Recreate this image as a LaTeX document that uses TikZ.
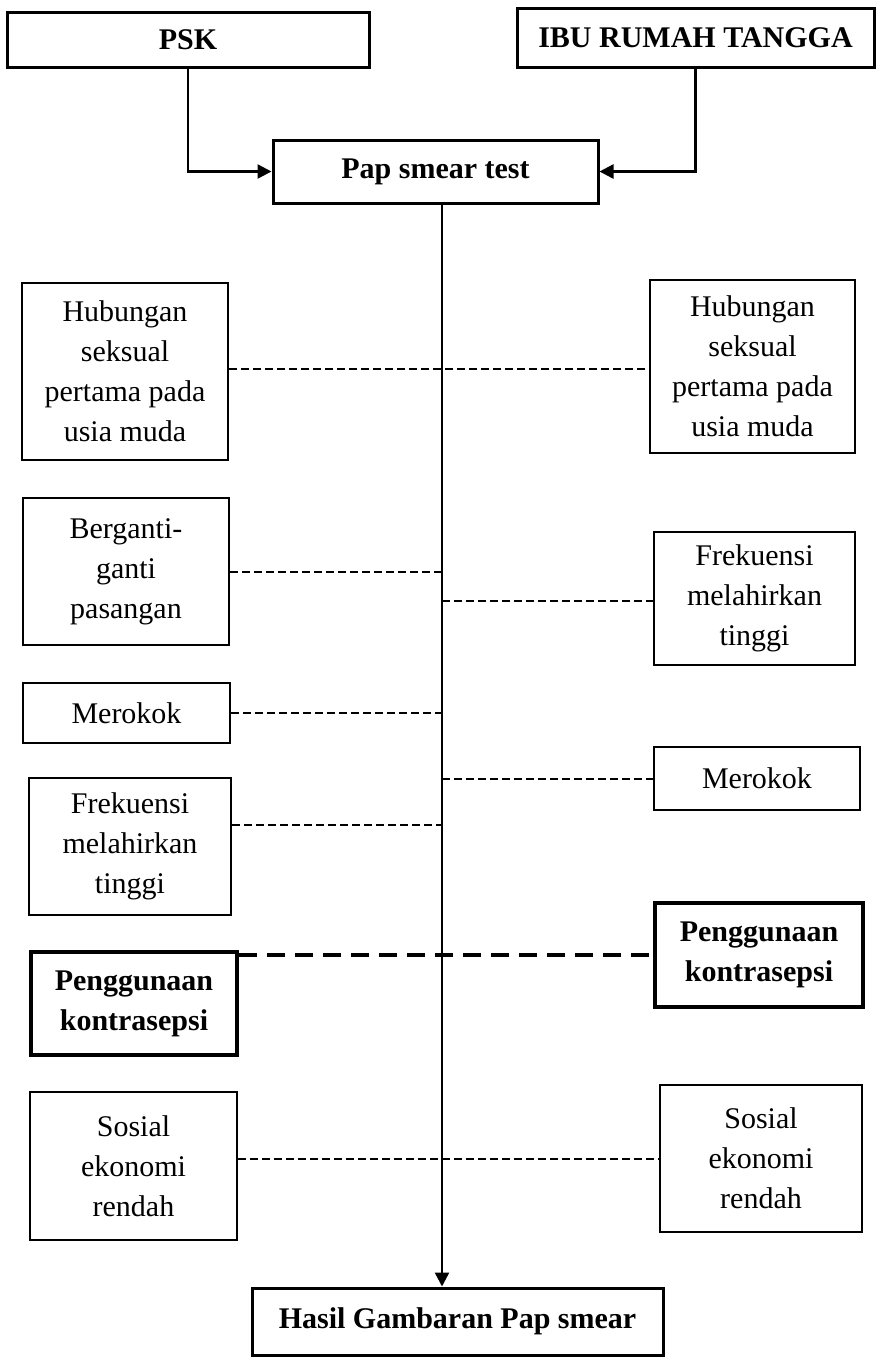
\documentclass[tikz,border=0pt]{standalone}
\usepackage{fontspec}
\setmainfont{Liberation Serif}
\usetikzlibrary{arrows.meta}
\begin{document}
\begin{tikzpicture}[x=0.5pt,y=-0.5pt,
 box/.style={draw, line width=1pt, align=center, inner sep=0pt, font=\fontsize{15}{20}\selectfont},
 headbox/.style={box, line width=1.5pt, font=\bfseries\fontsize{15}{20}\selectfont},
 keybox/.style={box, line width=2pt, font=\bfseries\fontsize{15}{20}\selectfont},
 link/.style={line width=1pt, dash pattern=on 4pt off 2pt},
 keylink/.style={line width=2pt, dash pattern=on 9pt off 5pt},
 flow/.style={line width=1.2pt, -{Triangle[length=7pt,width=7pt]}}]
\useasboundingbox (0,0) rectangle (876,1357);
% top
\node[headbox, minimum width=181pt, minimum height=27.5pt] (psk) at (188,39.5) {PSK};
\node[headbox, minimum width=178.5pt, minimum height=29.5pt] (ibu) at (695.5,37.5) {IBU RUMAH TANGGA};
\node[headbox, minimum width=162.5pt, minimum height=31.5pt] (pap) at (435.5,171.5) {Pap smear test};
\node[headbox, minimum width=205.5pt, minimum height=33.5pt] (hasil) at (457.5,1321.5) {Hasil Gambaran Pap smear};
\coordinate (spine) at (442,0);
\draw[flow] (psk.south) |- (pap.west);
\draw[flow] (ibu.south) |- (pap.east);
\draw[flow] (pap.south -| spine) -- (hasil.north -| spine);
% factor boxes
\node[box, minimum width=103pt, minimum height=88.5pt] (h1L) at (125,371.5) {Hubungan\\seksual\\pertama pada\\usia muda};
\node[box, minimum width=102.5pt, minimum height=86.5pt] (h1R) at (752.5,366.5) {Hubungan\\seksual\\pertama pada\\usia muda};
\node[box, minimum width=103pt, minimum height=73.5pt] (bgL) at (126,571.5) {Berganti-\\ganti\\pasangan};
\node[box, minimum width=100.5pt, minimum height=66.5pt] (frR) at (754.5,598.5) {Frekuensi\\melahirkan\\tinggi};
\node[box, minimum width=103.5pt, minimum height=30pt] (mrL) at (126.5,713) {Merokok};
\node[box, minimum width=103pt, minimum height=31.5pt] (mrR) at (757,778.5) {Merokok};
\node[box, minimum width=101pt, minimum height=68.5pt] (frL) at (130,846.5) {Frekuensi\\melahirkan\\tinggi};
\node[keybox, minimum width=103pt, minimum height=51.5pt] (pkL) at (134,1003.5) {Penggunaan\\kontrasepsi};
\node[keybox, minimum width=104pt, minimum height=52pt] (pkR) at (759,955) {Penggunaan\\kontrasepsi};
\node[box, minimum width=103.5pt, minimum height=74pt] (soL) at (133.5,1166) {Sosial\\ekonomi\\rendah};
\node[box, minimum width=101pt, minimum height=73.5pt] (soR) at (761,1158.5) {Sosial\\ekonomi\\rendah};
% dashed links
\draw[link] ([yshift=1.5pt]h1L.east) -- ([yshift=1.5pt]h1L.east -| h1R.west);
\draw[link] (bgL.east) -- (bgL.east -| spine);
\draw[link] ([yshift=-1pt]frR.west -| spine) -- ([yshift=-1pt]frR.west);
\draw[link] (mrL.east) -- (mrL.east -| spine);
\draw[link] (mrR.west -| spine) -- (mrR.west);
\draw[link] ([yshift=10.75pt]frL.east) -- ([yshift=10.75pt]frL.east -| spine);
\draw[keylink] (pkL.east |- pkR.west) -- (pkR.west);
\draw[link] (soL.east |- soR.west) -- (soR.west);
\end{tikzpicture}
\end{document}
